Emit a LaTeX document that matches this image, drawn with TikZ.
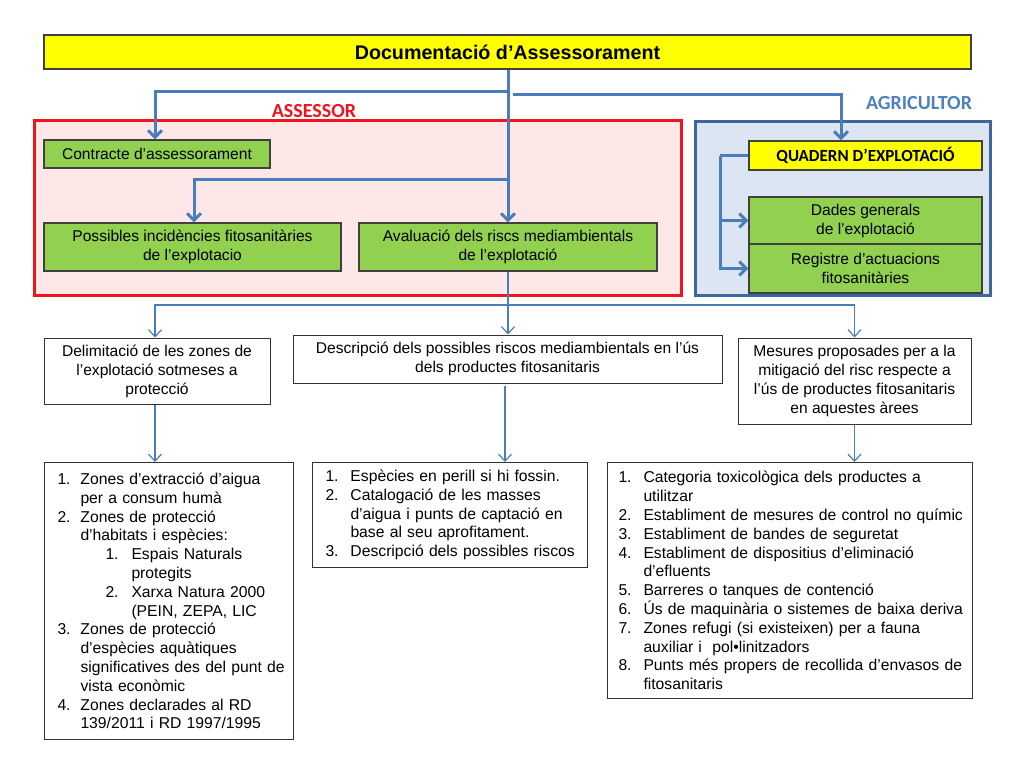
\documentclass[tikz,border=0pt]{standalone}
\usepackage{fontspec}
\setmainfont{Liberation Sans}
\newfontfamily\calfont{Carlito}
\usetikzlibrary{arrows.meta}
\definecolor{arrowblue}{HTML}{4A7EBB}
\definecolor{boxgreen}{HTML}{92D050}
\definecolor{boxyellow}{HTML}{FFFF00}
\definecolor{framered}{HTML}{F0141E}
\definecolor{fillred}{HTML}{FDE7E7}
\definecolor{frameblue}{HTML}{3C679E}
\definecolor{fillblue}{HTML}{DCE6F2}
\definecolor{lblblue}{HTML}{4F81BD}
\newcommand{\numline}[3]{\mbox{\makebox[#1][l]{#2}#3}}
\newcommand{\contline}[2]{\mbox{\hspace*{#1}#2}}
\newcommand{\subline}[2]{\mbox{\hspace*{48pt}\makebox[26pt][l]{#1}#2}}
\newcommand{\subcont}[1]{\mbox{\hspace*{74pt}#1}}
\tikzset{
  txt/.style={font=\fontsize{15.6}{19}\selectfont},
  greenbox/.style={txt, draw=black!75, line width=1.1pt, fill=boxgreen, align=center, inner sep=2pt},
  whitebox/.style={txt, draw=black!80, line width=1pt, fill=white, align=center, inner sep=2pt},
  listbox/.style={font=\fontsize{15.7}{18.8}\selectfont, draw=black!80, line width=1pt, fill=white, align=left, anchor=north west, inner ysep=3pt},
  thickarrow/.style={draw=arrowblue, line width=3pt, -{Straight Barb[length=7pt,width=14pt]}},
  thickline/.style={draw=arrowblue, line width=3pt},
  thinarrow/.style={draw=arrowblue, line width=1.2pt, -{Straight Barb[length=7pt,width=13pt]}},
  thinline/.style={draw=arrowblue, line width=1.2pt},
}
\begin{document}
\begin{tikzpicture}[x=1pt,y=-1pt]
\useasboundingbox (0,0) rectangle (1024,768);
\fill[white] (0,0) rectangle (1024,768);

% frames
\node[draw=framered, line width=3pt, fill=fillred, minimum width=647pt, minimum height=175pt, inner sep=0pt] (assessorframe) at (357.5,207.5) {};
\node[draw=frameblue, line width=3pt, fill=fillblue, minimum width=295pt, minimum height=174pt, inner sep=0pt] (agriframe) at (842.5,208) {};
\node[font=\calfont\bfseries\fontsize{20}{22}\selectfont, text=framered] (assessorlbl) at (314,111) {ASSESSOR};
\node[font=\calfont\bfseries\fontsize{20}{22}\selectfont, text=lblblue] (agrilbl) at (919,103) {AGRICULTOR};

% title
\node[draw=black!75, line width=1.2pt, fill=boxyellow, minimum width=927pt, minimum height=34pt, font=\bfseries\fontsize{19.7}{22}\selectfont] (title) at (507.5,52) {Documentació d’Assessorament};

% assessor boxes
\node[greenbox, minimum width=226pt, minimum height=28pt] (contracte) at (157,154) {Contracte d’assessorament};
\node[greenbox, minimum width=297pt, minimum height=48pt] (possibles) at (192.5,247) {Possibles incidències fitosanitàries\\de l’explotacio};
\node[greenbox, minimum width=298pt, minimum height=48pt] (avaluacio) at (508,247) {Avaluació dels riscs mediambientals\\de l’explotació};

% agricultor boxes
\node[draw=black!75, line width=1.1pt, fill=boxyellow, minimum width=233pt, minimum height=29pt, font=\calfont\bfseries\fontsize{17}{19}\selectfont] (quadern) at (865.5,155.5) {QUADERN D’EXPLOTACIÓ};
\node[greenbox, minimum width=233pt, minimum height=47pt] (dades) at (865.5,220.5) {Dades generals\\de l’explotació};
\node[greenbox, minimum width=233pt, minimum height=49pt] (registre) at (865.5,268.5) {Registre d’actuacions\\fitosanitàries};

% middle boxes
\node[whitebox, minimum width=226pt, minimum height=66pt] (delim) at (157,371) {Delimitació de les zones de\\l’explotació sotmeses a\\protecció};
\node[whitebox, minimum width=429pt, minimum height=48pt] (descr) at (507.5,359) {Descripció dels possibles riscos mediambientals en l’ús\\dels productes fitosanitaris};
\node[whitebox, minimum width=233pt, minimum height=86pt] (mesures) at (854.5,381) {Mesures proposades per a la\\mitigació del risc respecte a\\l’ús de productes fitosanitaris\\en aquestes àrees};

% lists
\node[listbox, text width=223pt, inner xsep=13pt, minimum height=277pt] (listA) at (44,462) {%
\numline{23pt}{1.}{Zones d’extracció d’aigua}\\
\contline{23pt}{per a consum humà}\\
\numline{23pt}{2.}{Zones de protecció}\\
\contline{23pt}{d’habitats i espècies:}\\
\subline{1.}{Espais Naturals}\\
\subcont{protegits}\\
\subline{2.}{Xarxa Natura 2000}\\
\subcont{(PEIN, ZEPA, LIC}\\
\numline{23pt}{3.}{Zones de protecció}\\
\contline{23pt}{d’espècies aquàtiques}\\
\contline{23pt}{significatives des del punt de}\\
\contline{23pt}{vista econòmic}\\
\numline{23pt}{4.}{Zones declarades al RD}\\
\contline{23pt}{139/2011 i RD 1997/1995}};

\node[listbox, text width=249pt, inner xsep=13pt, minimum height=105pt] (listB) at (312,462) {%
\numline{25pt}{1.}{Espècies en perill si hi fossin.}\\
\numline{25pt}{2.}{Catalogació de les masses}\\
\contline{25pt}{d’aigua i punts de captació en}\\
\contline{25pt}{base al seu aprofitament.}\\
\numline{25pt}{3.}{Descripció dels possibles riscos}};

\node[listbox, text width=343pt, inner xsep=11pt, minimum height=236pt] (listC) at (607,462) {%
\numline{25pt}{1.}{Categoria toxicològica dels productes a}\\
\contline{25pt}{utilitzar}\\
\numline{25pt}{2.}{Establiment de mesures de control no químic}\\
\numline{25pt}{3.}{Establiment de bandes de seguretat}\\
\numline{25pt}{4.}{Establiment de dispositius d’eliminació}\\
\contline{25pt}{d’efluents}\\
\numline{25pt}{5.}{Barreres o tanques de contenció}\\
\numline{25pt}{6.}{Ús\ de maquinària o sistemes de baixa deriva}\\
\numline{25pt}{7.}{Zones refugi (si existeixen) per a fauna}\\
\contline{25pt}{auxiliar i\ \ pol•linitzadors}\\
\numline{25pt}{8.}{Punts més propers de recollida d’envasos de}\\
\contline{25pt}{fitosanitaris}};

% thick connectors
\coordinate (j1) at (508,91);
\coordinate (j2) at (513,94);
\coordinate (j3) at (508,179);
\draw[thickarrow] (avaluacio.north |- title.south) -- (avaluacio.north);
\draw[thickarrow] (j1) -| ([xshift=-2pt]contracte.north);
\draw[thickarrow] (j2) -| ([xshift=-24.5pt]quadern.north);
\draw[thickarrow] (j3) -| ([xshift=1.5pt]possibles.north);
\coordinate (qleft) at ([xshift=-28pt]quadern.west);
\draw[thickline] (quadern.west) -- (qleft);
\draw[thickarrow] (qleft) |- (dades.west);
\draw[thickarrow] (qleft) |- (registre.west);

% thin connectors
\coordinate (j4) at (508,305);
\draw[thinline] (avaluacio.south) -- (j4);
\draw[thinarrow] (j4) -| ([xshift=-2pt]delim.north);
\draw[thinarrow] (j4) -- (descr.north -| j4);
\draw[thinarrow] (j4) -| (mesures.north);
\draw[thinarrow] ([xshift=-2pt]delim.south) -- ([xshift=-2pt]delim.south |- listA.north);
\draw[thinarrow] ([xshift=-2.5pt,yshift=-2pt]descr.south) -- ([xshift=-2.5pt]descr.south |- listB.north);
\draw[thinarrow] (mesures.south) -- (mesures.south |- listC.north);
\end{tikzpicture}
\end{document}
